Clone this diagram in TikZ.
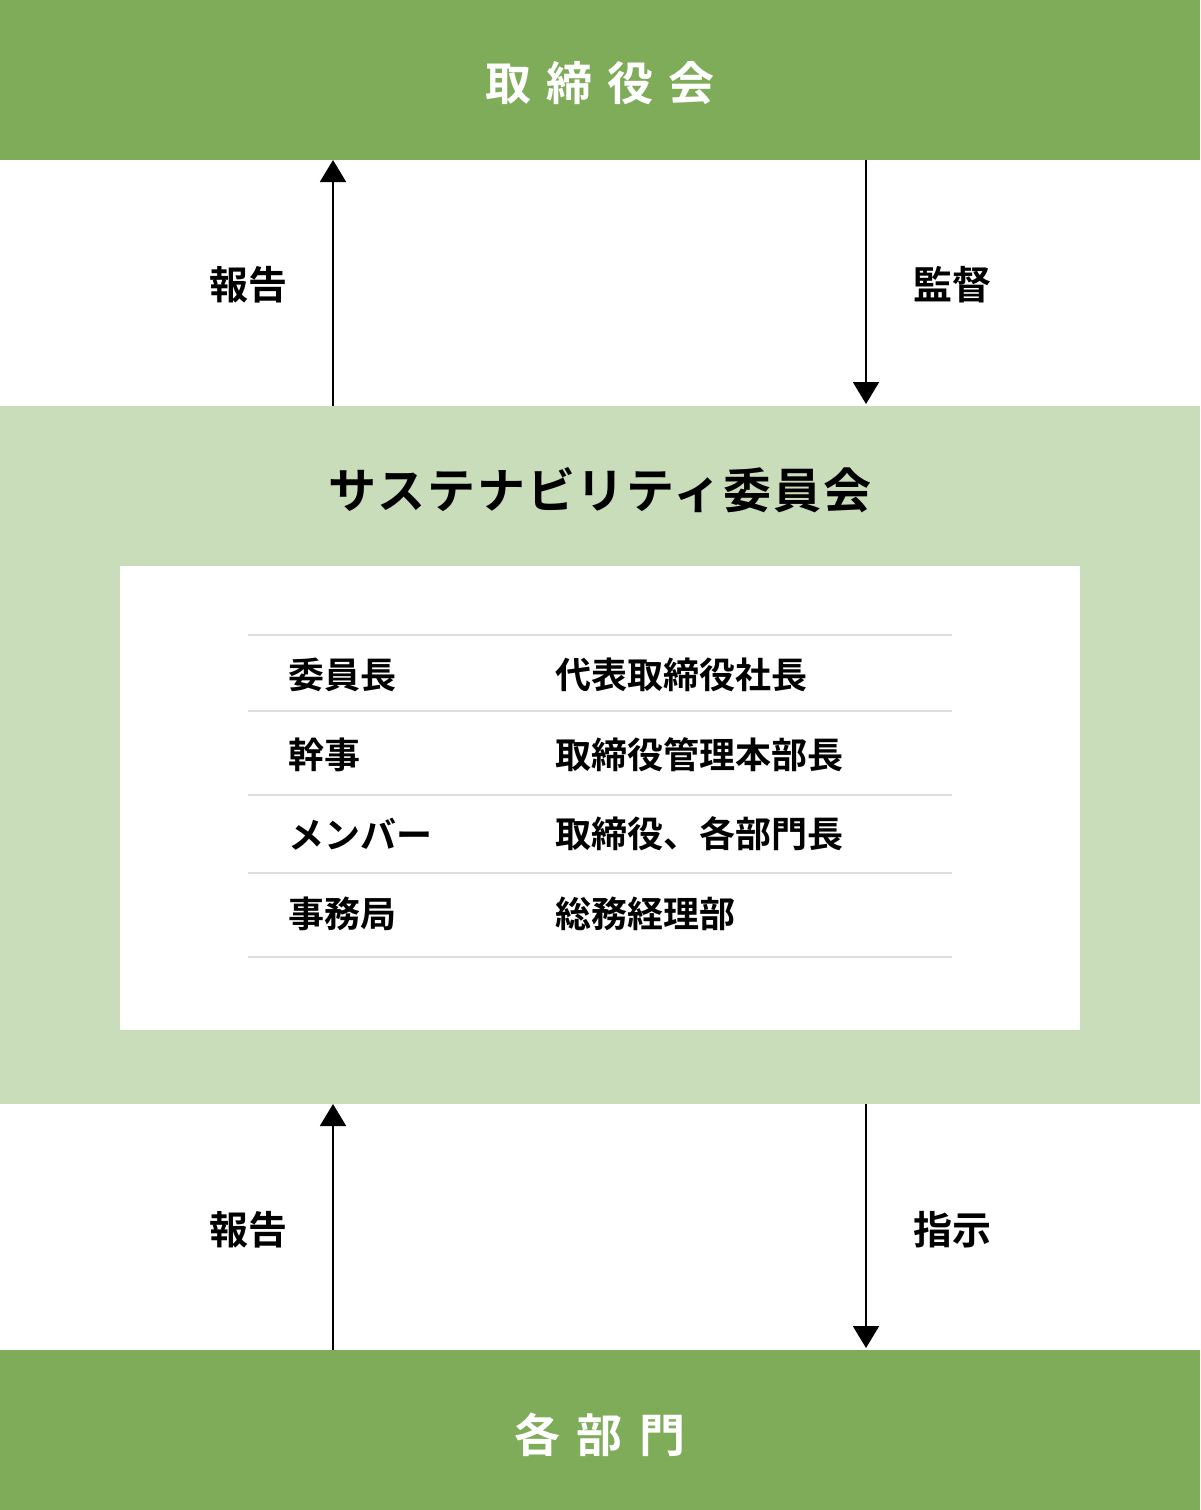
\documentclass[tikz,border=0pt]{standalone}
\usepackage{fontspec}
\newfontfamily\jp{Noto Sans CJK JP}[BoldFont={Noto Sans CJK JP Bold}]
\usetikzlibrary{arrows.meta}
\definecolor{dgreen}{HTML}{7FAC59}
\definecolor{lgreen}{HTML}{CADDBA}
\definecolor{rule}{HTML}{DDDDDD}
\tikzset{
  flow/.style={line width=2pt, -{Triangle[width=26pt,length=22pt]}},
  lbl/.style={font=\jp\bfseries\fontsize{39}{39}\selectfont, inner sep=0pt, text=black},
  cell/.style={font=\jp\bfseries\fontsize{36}{36}\selectfont, inner sep=0pt, anchor=west, text=black},
  rowline/.style={draw=rule, line width=2pt},
  big/.style={font=\jp\bfseries\fontsize{46}{46}\selectfont, inner sep=0pt, text=white},
}
\begin{document}
\begin{tikzpicture}[x=1pt,y=-1pt]
\useasboundingbox (0,0) rectangle (1200,1510);
% bands
\fill[dgreen] (0,0) rectangle (1200,160);
\fill[lgreen] (0,406) rectangle (1200,1104);
\fill[white] (120,566) rectangle (1080,1030);
\fill[dgreen] (0,1350) rectangle (1200,1510);
% band anchors
\coordinate (topS1) at (333,160);
\coordinate (topS2) at (866,160);
\coordinate (midN1) at (333,406);
\coordinate (midN2) at (866,404);
\coordinate (midS1) at (333,1104);
\coordinate (midS2) at (866,1104);
\coordinate (botN1) at (333,1350);
\coordinate (botN2) at (866,1348);
% titles
\node[big] (board) at (600,83) {取\hspace{15pt}締\hspace{15pt}役\hspace{15pt}会};
\node[font=\jp\bfseries\fontsize{48}{48}\selectfont\addfontfeature{LetterSpace=4}, inner sep=0pt] (comm) at (600,490) {サステナビリティ委員会};
\node[big] (dept) at (600,1435) {各\hspace{17pt}部\hspace{17pt}門};
% arrows
\draw[flow] (midN1) -- (topS1);
\draw[flow] (topS2) -- (midN2);
\draw[flow] (botN1) -- (midS1);
\draw[flow] (midS2) -- (botN2);
% arrow labels
\node[lbl] (rep1) at (248,285) {報告};
\node[lbl] (sup) at (952,285) {監督};
\node[lbl] (rep2) at (248,1230) {報告};
\node[lbl] (ins) at (952,1230) {指示};
% table rules
\foreach \y/\n in {635/r0,711/r1,795/r2,873/r3,957/r4}{
  \draw[rowline] (248,\y) coordinate (\n a) -- (952,\y) coordinate (\n b);
}
% table cells
\node[cell] (a1) at (288,675) {委員長};
\node[cell] (b1) at (555,675) {代表取締役社長};
\node[cell] (a2) at (288,755) {幹事};
\node[cell] (b2) at (555,755) {取締役管理本部長};
\node[cell] (a3) at (288,834) {メンバー};
\node[cell] (b3) at (555,834) {取締役、各部門長};
\node[cell] (a4) at (288,914) {事務局};
\node[cell] (b4) at (555,914) {総務経理部};
\end{tikzpicture}
\end{document}
